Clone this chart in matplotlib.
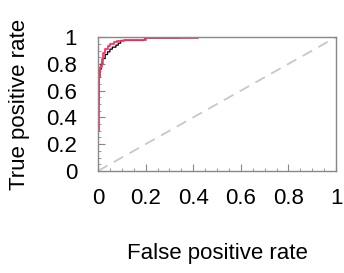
import matplotlib
matplotlib.use('Agg')
import matplotlib.pyplot as plt
from matplotlib.ticker import MultipleLocator

# ROC curves (step points)
fpr_red = [0, 0, 0.003, 0.003, 0.006, 0.006, 0.01, 0.01, 0.015, 0.015, 0.02, 0.02,
           0.03, 0.03, 0.04, 0.04, 0.05, 0.05, 0.065, 0.065, 0.08, 0.08, 0.11, 0.11,
           0.2, 0.2, 0.42, 0.42, 1]
tpr_red = [0, 0.3, 0.3, 0.55, 0.55, 0.7, 0.7, 0.78, 0.78, 0.84, 0.84, 0.88,
           0.88, 0.91, 0.91, 0.93, 0.93, 0.945, 0.945, 0.96, 0.96, 0.97, 0.97, 0.98,
           0.98, 0.99, 0.99, 1, 1]

fpr_blk = [0, 0, 0.004, 0.004, 0.008, 0.008, 0.013, 0.013, 0.02, 0.02, 0.03, 0.03,
           0.04, 0.04, 0.05, 0.05, 0.06, 0.06, 0.075, 0.075, 0.085, 0.085, 0.095, 0.095,
           0.19, 0.2, 0.34, 0.34, 1]
tpr_blk = [0, 0.5, 0.5, 0.7, 0.7, 0.76, 0.76, 0.8, 0.8, 0.84, 0.84, 0.87,
           0.87, 0.89, 0.89, 0.91, 0.91, 0.925, 0.925, 0.94, 0.94, 0.955, 0.955, 0.975,
           0.975, 0.993, 0.993, 1, 1]

x_ticks = [0, 0.2, 0.4, 0.6, 0.8, 1]
x_labels = ['0', '0.2', '0.4', '0.6', '0.8', '1']

plt.rcParams['font.family'] = ['Liberation Sans', 'DejaVu Sans']

fig = plt.figure(figsize=(3.44, 2.73), dpi=100)
ax = fig.add_axes([0.285, 0.374, 0.692, 0.49])

ax.plot([0, 1], [0, 1], color='#c8c8c8', linestyle=(0, (6, 4)), linewidth=1.3)
ax.plot(fpr_blk, tpr_blk, color='black', linewidth=0.9)
ax.plot(fpr_red, tpr_red, color='#ff3366', linewidth=1.3)

ax.set_xlim(0, 1)
ax.set_ylim(0, 1)
ax.set_xticks(x_ticks)
ax.set_xticklabels(x_labels)
ax.set_yticks(x_ticks)
ax.set_yticklabels(x_labels)
ax.xaxis.set_minor_locator(MultipleLocator(0.05))
ax.yaxis.set_minor_locator(MultipleLocator(0.05))

for s in ax.spines.values():
    s.set_color('#888888')
    s.set_linewidth(1.0)
ax.tick_params(which='both', direction='in', color='#888888', top=False, right=False)
ax.tick_params(which='major', length=5, labelsize=16)
ax.tick_params(which='minor', length=2.5)
ax.tick_params(axis='x', which='major', pad=12)
ax.tick_params(axis='y', which='major', pad=15)

ax.set_xlabel('False positive rate', fontsize=16, labelpad=25)
ax.set_ylabel('True positive rate', fontsize=16, labelpad=12)

fig.savefig('out.png', dpi=100)
